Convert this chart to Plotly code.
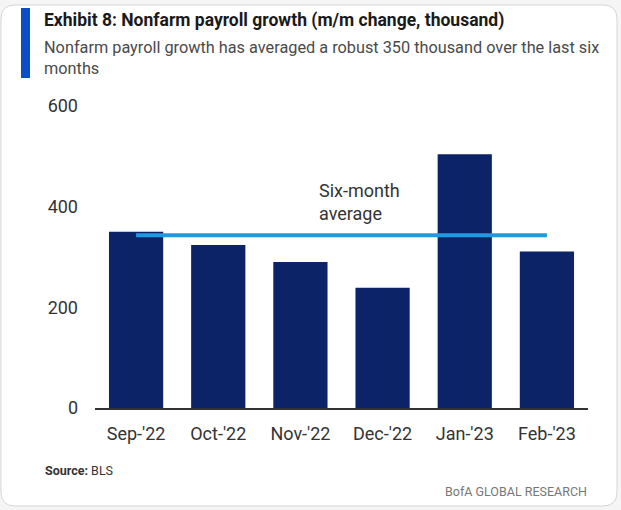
import plotly.graph_objects as go

months = ["Sep-'22", "Oct-'22", "Nov-'22", "Dec-'22", "Jan-'23", "Feb-'23"]
payrolls = [350, 324, 290, 239, 504, 311]
six_month_avg = [343, 343, 343, 343, 343, 343]
y_ticks = [0, 200, 400, 600]

FONT = "Roboto, Liberation Sans, sans-serif"
W, H = 621, 510
L, R, T, B = 95, 33, 106, 102
PW, PH = W - L - R, H - T - B

def px(x):
    return (x - L) / PW

def py(y):
    return (H - B - y) / PH

fig = go.Figure()
fig.add_trace(go.Bar(x=months, y=payrolls, marker_color="#0c2368",
                     marker_line_width=0, width=0.66, hoverinfo="x+y"))
fig.add_trace(go.Scatter(x=months, y=six_month_avg, mode="lines",
                         line=dict(color="#1e9be0", width=4), hoverinfo="y"))

# rounded card background (pixel corners converted to paper units)
cx0, cy0, cx1, cy1, rad = 1, 5, 617, 506, 14
def pt(x, y):
    return f"{px(x):.5f},{py(y):.5f}"
card = (f"M {pt(cx0 + rad, cy0)} L {pt(cx1 - rad, cy0)} Q {pt(cx1, cy0)} {pt(cx1, cy0 + rad)} "
        f"L {pt(cx1, cy1 - rad)} Q {pt(cx1, cy1)} {pt(cx1 - rad, cy1)} "
        f"L {pt(cx0 + rad, cy1)} Q {pt(cx0, cy1)} {pt(cx0, cy1 - rad)} "
        f"L {pt(cx0, cy0 + rad)} Q {pt(cx0, cy0)} {pt(cx0 + rad, cy0)} Z")
fig.add_shape(type="path", xref="paper", yref="paper", path=card,
              fillcolor="white", line=dict(color="#d6d6d6", width=1), layer="below")
# blue accent bar
fig.add_shape(type="rect", xref="paper", yref="paper", x0=px(21), x1=px(30),
              y0=py(78), y1=py(8), fillcolor="#0a4fc4", line_width=0)

ann = [
    dict(text="<b>Exhibit 8: Nonfarm payroll growth (m/m change, thousand)</b>",
         x=px(42), y=py(20), xanchor="left", yanchor="middle",
         font=dict(size=17.5, color="#1a1a1a")),
    dict(text="Nonfarm payroll growth has averaged a robust 350 thousand over the last six<br>months",
         x=px(42), y=py(36), xanchor="left", yanchor="top", align="left",
         font=dict(size=16.3, color="#4a4a4a")),
    dict(text="Six-month<br>average", x=px(317), y=py(178),
         xanchor="left", yanchor="top", align="left",
         font=dict(size=18, color="#333333")),
    dict(text="<b>Source:</b> BLS", x=px(43), y=py(470), xanchor="left",
         yanchor="middle", font=dict(size=12.5, color="#333333")),
    dict(text="BofA GLOBAL RESEARCH", x=px(589), y=py(491), xanchor="right",
         yanchor="middle", font=dict(size=12.5, color="#777777")),
]
for a in ann:
    a["xref"] = "paper"
    a["yref"] = "paper"
    a["showarrow"] = False
fig.update_layout(annotations=ann)

fig.update_layout(
    width=W, height=H,
    margin=dict(l=L, r=R, t=T, b=B, pad=0, autoexpand=False),
    paper_bgcolor="#f5f5f5", plot_bgcolor="rgba(0,0,0,0)",
    showlegend=False,
    font=dict(family=FONT, color="#333333"),
)
fig.update_xaxes(range=[-0.5, 5.5], showgrid=False, zeroline=False,
                 showline=True, linecolor="#333333", linewidth=2, ticks="",
                 tickfont=dict(size=18, color="#333333"), ticklabelstandoff=8,
                 automargin=False, fixedrange=True)
fig.update_yaxes(range=[0, 600], tickvals=y_ticks, showgrid=False,
                 zeroline=False, showline=False, ticks="",
                 tickfont=dict(size=18, color="#333333"), ticklabelstandoff=16,
                 automargin=False, fixedrange=True)

fig.write_html("out.html", config={"displayModeBar": False},
               post_script="document.body.style.margin='0';")
